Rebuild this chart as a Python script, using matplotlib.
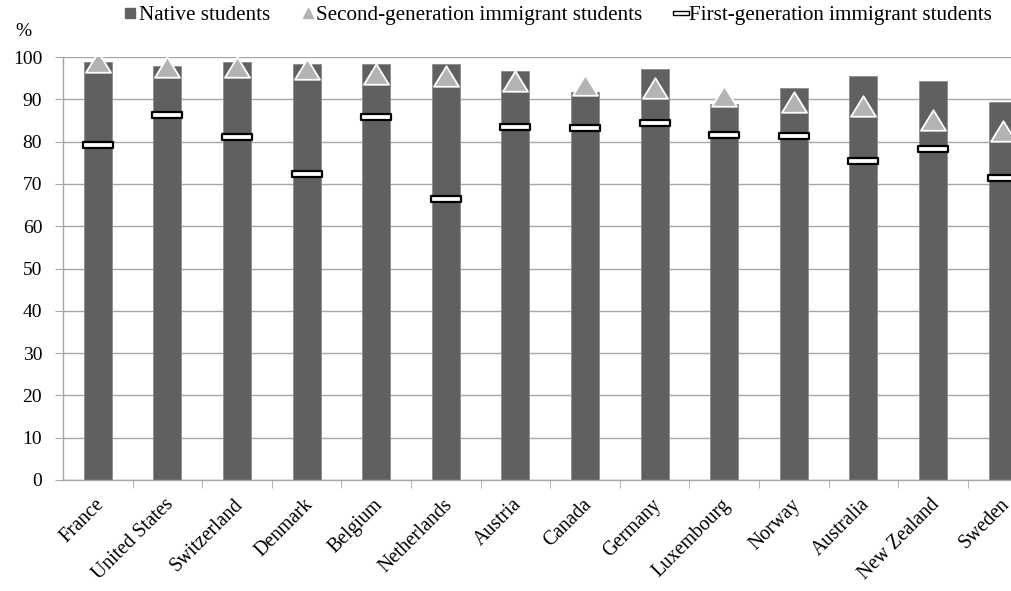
import matplotlib.pyplot as plt
import numpy as np
from matplotlib.path import Path
from matplotlib.lines import Line2D
from matplotlib.ticker import FixedLocator
from matplotlib.transforms import ScaledTranslation

plt.rcParams['font.family'] = ['Liberation Serif', 'DejaVu Serif']

countries = ['France', 'United States', 'Switzerland', 'Denmark', 'Belgium',
             'Netherlands', 'Austria', 'Canada', 'Germany', 'Luxembourg',
             'Norway', 'Australia', 'New Zealand', 'Sweden']
native = [98.9, 97.9, 98.7, 98.3, 98.3, 98.3, 96.8, 91.7, 97.1, 88.8,
          92.7, 95.4, 94.4, 89.3]
second_gen = [98.7, 97.6, 97.6, 97.1, 96.0, 95.5, 94.4, 93.3, 92.7, 90.7,
              89.4, 88.5, 85.1, 82.5]
first_gen = [79.2, 86.4, 81.1, 72.3, 85.9, 66.4, 83.5, 83.3, 84.5, 81.6,
             81.3, 75.3, 78.2, 71.4]

bar_col = '#606060'
tri_col = '#b3b3b3'
grid_col = '#a6a6a6'

dash = Path([(-1, -0.2), (1, -0.2), (1, 0.2), (-1, 0.2), (-1, -0.2)],
            [Path.MOVETO, Path.LINETO, Path.LINETO, Path.LINETO, Path.CLOSEPOLY])
tri = Path([(-1, -0.82), (1, -0.82), (0, 0.82), (-1, -0.82)],
           [Path.MOVETO, Path.LINETO, Path.LINETO, Path.CLOSEPOLY])

W, H = 1011, 591
fig = plt.figure(figsize=(W / 100, H / 100), dpi=100)
ax = fig.add_axes([63 / W, (H - 480) / H, (W - 63) / W, (480 - 57) / H])

x = np.arange(len(countries))
ax.bar(x, native, width=0.4, color=bar_col, edgecolor='#8c8c8c', linewidth=0.6, zorder=2)
ax.plot(x, second_gen, linestyle='none', marker=tri, ms=18, mfc=tri_col,
        mec='white', mew=1.3, zorder=3)
ax.plot(x, first_gen, linestyle='none', marker=dash, ms=21, mfc='white',
        mec='black', mew=1.6, zorder=4)

ax.set_ylim(0, 100)
ax.set_xlim(-0.5, -0.5 + (W - 63) / 69.6)
ax.set_yticks(np.arange(0, 101, 10))
ax.yaxis.grid(True, color=grid_col, linewidth=1)
ax.set_axisbelow(True)
for s in ['top', 'right']:
    ax.spines[s].set_visible(False)
for s in ['left', 'bottom']:
    ax.spines[s].set_color(grid_col)
    ax.spines[s].set_linewidth(1)

ax.tick_params(axis='y', direction='out', length=6, color=grid_col, labelsize=14, pad=9)
ax.set_xticks(x)
ax.set_xticklabels(countries, rotation=45, ha='right', va='top',
                   rotation_mode='anchor', fontsize=14.2)
ax.tick_params(axis='x', which='major', length=0, pad=11)
shift = ScaledTranslation(-3 / 100, 0, fig.dpi_scale_trans)
for lab in ax.get_xticklabels():
    lab.set_transform(lab.get_transform() + shift)
ax.xaxis.set_minor_locator(FixedLocator(np.arange(0.5, 13.5, 1)))
ax.tick_params(axis='x', which='minor', direction='out', length=6, color=grid_col)

fig.text(15 / W, 1 - 32 / H, '%', fontsize=14, va='center', ha='left')

handles = [
    Line2D([], [], linestyle='none', marker='s', ms=7, color=bar_col),
    Line2D([], [], linestyle='none', marker='^', ms=7, color=tri_col),
    Line2D([], [], linestyle='none', marker=dash, ms=12, mfc='white', mec='black', mew=1.0),
]
labels = ['Native students', 'Second-generation immigrant students',
          'First-generation immigrant students']
fig.legend(handles, labels, loc='center', bbox_to_anchor=(558 / W, 1 - 15 / H),
           ncol=3, frameon=False, fontsize=15.2, handlelength=0.6, handletextpad=0.1,
           columnspacing=1.5, borderpad=0)

fig.savefig('out.png', dpi=100)
